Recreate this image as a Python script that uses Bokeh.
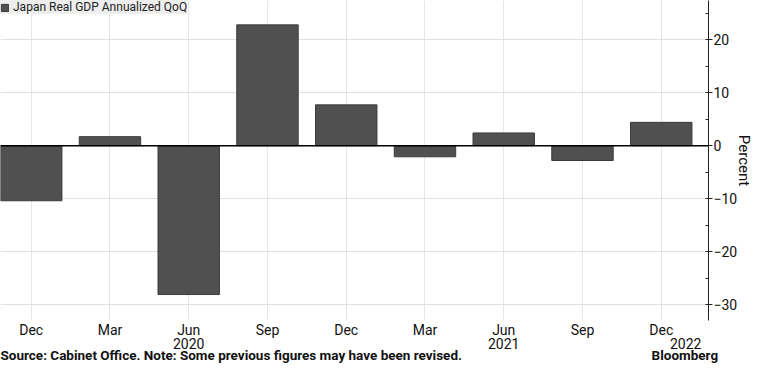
from bokeh.plotting import figure
from bokeh.models import (ColumnDataSource, LinearAxis, FixedTicker, Span, Legend, LegendItem,
                          Range1d)
from bokeh.embed import file_html
from bokeh.resources import INLINE

# ---- data ----
quarters = ["Dec", "Mar", "Jun", "Sep", "Dec", "Mar", "Jun", "Sep", "Dec"]
years = ["", "", "2020", "", "", "", "2021", "", "2022"]
gdp = [-10.4, 1.7, -28.1, 22.8, 7.7, -2.1, 2.4, -2.8, 4.4]
y_ticks = [-30, -20, -10, 0, 10, 20]
y_label = "Percent"
series_name = "Japan Real GDP Annualized QoQ"
source_text = "Source: Cabinet Office. Note: Some previous figures may have been revised."
brand_text = "Bloomberg"

FONT = "Roboto"
idx = list(range(len(quarters)))
src = ColumnDataSource(dict(x=idx, top=gdp))

X0, X1 = -0.39, 8.6
Y0, Y1 = -33, 27.4
p = figure(width=756, height=365, output_backend="svg", toolbar_location=None,
           x_range=Range1d(X0, X1), y_range=Range1d(Y0, Y1),
           y_axis_location="right", min_border_left=0, min_border_top=0,
           min_border_right=0, min_border_bottom=0)
p.outline_line_color = None
p.background_fill_color = "white"
p.border_fill_color = "white"

# grid
p.xgrid.ticker = FixedTicker(ticks=idx)
p.xgrid.grid_line_color = "#e6e6e6"
p.ygrid.grid_line_color = "#e0e0e0"

r = p.vbar(x="x", top="top", bottom=0, width=0.78, source=src,
           fill_color="#505050", line_color="#3a3a3a", line_width=1)

p.add_layout(Span(location=0, dimension="width", line_color="black", line_width=1.5))

# y axis (right)
yax = p.yaxis[0]
yax.ticker = FixedTicker(ticks=y_ticks, minor_ticks=[-30 + 5 * i for i in range(13)])
yax.axis_label = y_label
yax.axis_label_text_font = FONT
yax.axis_label_text_font_size = "15px"
yax.axis_label_text_font_style = "normal"
yax.axis_label_text_color = "#111111"
yax.axis_label_standoff = -5
yax.major_label_text_font = FONT
yax.major_label_text_font_size = "14px"
yax.major_label_text_color = "#111111"
yax.axis_line_color = "#222222"
yax.major_tick_line_color = "#222222"
yax.minor_tick_line_color = "#222222"
yax.major_tick_in = 0
yax.major_tick_out = 4
yax.minor_tick_in = 3
yax.minor_tick_out = 0
yax.major_label_standoff = 1


def plain_axis(ax, size="14px", style="normal", standoff=0):
    ax.major_label_text_font = FONT
    ax.major_label_text_font_size = size
    ax.major_label_text_font_style = style
    ax.major_label_text_color = "#111111"
    ax.axis_line_color = None
    ax.major_tick_line_color = None
    ax.minor_tick_line_color = None
    ax.major_tick_in = 0
    ax.major_tick_out = 0
    ax.minor_tick_in = 0
    ax.minor_tick_out = 0
    ax.major_label_standoff = standoff


# x axis: months
xax = p.xaxis[0]
xax.ticker = FixedTicker(ticks=idx)
xax.major_label_overrides = {i: q for i, q in zip(idx, quarters)}
plain_axis(xax, standoff=1)

# second x axis: years
ypos = []
ylab = {}
for i, yv in zip(idx, years):
    if yv:
        pos = i + (0.31 if i == len(idx) - 1 else 0)
        ypos.append(pos)
        ylab[pos] = yv
xax2 = LinearAxis(ticker=FixedTicker(ticks=ypos), major_label_overrides=ylab)
plain_axis(xax2, standoff=-3)
p.add_layout(xax2, "below")

# footer row (source note left, brand right) as a label-only axis
f_left = X0 + 0.07
f_right = X1 - 0.3
xax3 = LinearAxis(ticker=FixedTicker(ticks=[f_left, f_right]),
                  major_label_overrides={f_left: source_text, f_right: brand_text})
plain_axis(xax3, size="13.5px", style="bold", standoff=-5)
xax3.major_label_text_align = "left"
p.add_layout(xax3, "below")

# legend
leg = Legend(items=[LegendItem(label=series_name, renderers=[r])], location="top_left")
leg.background_fill_color = "#eeeeee"
leg.background_fill_alpha = 1
leg.border_line_color = None
leg.margin = 0
leg.padding = 6
leg.label_text_font = FONT
leg.label_text_font_size = "12px"
leg.label_text_color = "#222222"
leg.glyph_width = 9
leg.glyph_height = 9
leg.label_standoff = 4
leg.label_height = 14
p.add_layout(leg)

open("out.html", "w").write(file_html(p, INLINE))
